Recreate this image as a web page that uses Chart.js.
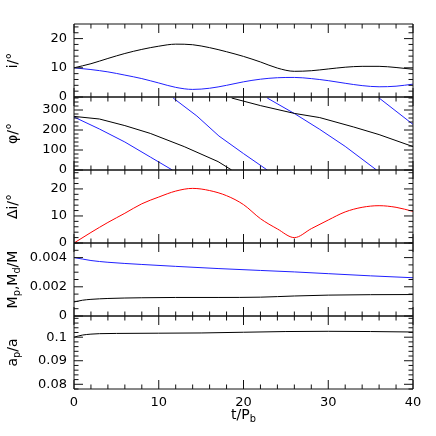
<!DOCTYPE html>
<html>
<head>
<meta charset="utf-8">
<script src="https://cdn.jsdelivr.net/npm/chart.js@4.4.1/dist/chart.umd.min.js"></script>
<style>
  html, body { margin: 0; padding: 0; background: #fff; }
</style>
</head>
<body>
<canvas id="myChart" width="436" height="436"></canvas>
<script>
// time grid (in binary periods) for the smooth series
const tGrid = [0, 2, 4, 6, 8, 10, 12, 14, 16, 18, 20, 22, 24, 26, 28, 30, 32, 34, 36, 38, 40];

// panel 1: inclinations
const incBlack = [10, 11.4, 13.2, 14.9, 16.3, 17.4, 18.1, 17.9, 16.9, 15.5, 13.9, 12.0, 9.9, 8.8, 9.0, 9.6, 10.2, 10.5, 10.5, 10.1, 9.5];
const incBlue = [10, 9.4, 8.6, 7.5, 6.3, 4.8, 3.3, 2.6, 3.0, 4.0, 5.2, 6.1, 6.6, 6.7, 6.3, 5.6, 4.7, 3.9, 3.5, 3.7, 4.4];

// panel 2: node angles, wrapped at 360 (null = break)
const phiBlackT = [0, 3, 6, 9, 13, 17, 18.6, 18.6, 18.6, 22, 26, 29, 33, 36, 40];
const phiBlack = [268, 255, 222, 183, 117, 42, 0, null, 360, 322, 283, 262, 215, 177, 117];
const phiBlueT = [0, 3, 6, 9, 11.6, 11.6, 11.7, 14.5, 17.1, 20, 22.8, 22.8, 22.8, 26.1, 29, 32, 35.7, 35.7, 36, 40];
const phiBlue = [265, 205, 140, 65, 0, null, 360, 270, 170, 82, 0, null, 360, 280, 203, 118, 0, null, 360, 228];

// panel 3: mutual inclination
const dInc = [0, 3.9, 7.6, 11.0, 14.5, 17.0, 19.2, 20.2, 19.4, 17.5, 14.2, 9.0, 5.2, 2.0, 5.3, 8.5, 11.5, 13.2, 13.8, 13.2, 11.7];

// panel 4: masses
const massT = [0, 1, 2, 4, 8, 12, 17, 22, 26, 30, 35, 40];
const massDisc = [0.00400, 0.00390, 0.00380, 0.00368, 0.00353, 0.00340, 0.00325, 0.00312, 0.00302, 0.00290, 0.00275, 0.00262];
const massPlanet = [0.00096, 0.00108, 0.00114, 0.00120, 0.00125, 0.00127, 0.00127, 0.00129, 0.00137, 0.00143, 0.00146, 0.00147];

// panel 5: planet semi-major axis
const apT = [0, 0.5, 1, 2, 3, 5, 10, 15, 20, 25, 30, 35, 40];
const apVal = [0.1000, 0.1005, 0.1009, 0.1013, 0.1015, 0.1016, 0.1017, 0.1018, 0.1021, 0.1024, 0.1025, 0.1024, 0.1022];

// tick labels
const tTicks = [0, 10, 20, 30, 40];
const incTicks = [0, 10, 20];
const phiTicks = [0, 100, 200, 300];
const dIncTicks = [0, 10, 20];
const massTicks = [0, 0.002, 0.004];
const apTicks = [0.08, 0.09, 0.1];

const BLUE = '#2020ff';
const FONT = 'DejaVu Sans';

// top to bottom
const panels = [
    { id: 'y1', min: 0, max: 25, ticks: incTicks, minor: 2, title: [['i/°']] },
    { id: 'y2', min: 0, max: 365, ticks: phiTicks, minor: 20, title: [['φ/°']] },
    { id: 'y3', min: 0, max: 27, ticks: dIncTicks, minor: 2, title: [['Δi/°']] },
    { id: 'y4', min: 0, max: 0.005, ticks: massTicks, minor: 0.0005, title: [['M'], ['p', 1], [',M'], ['d', 1], ['/M']] },
    { id: 'y5', min: 0.078, max: 0.109, ticks: apTicks, minor: 0.002, title: [['a'], ['p', 1], ['/a']] }
];

function pts(ts, vs) {
    return ts.map((t, i) => ({ x: t, y: vs[i] }));
}

function line(data, color, axis, smooth) {
    return {
        data: data,
        yAxisID: axis,
        borderColor: color,
        borderWidth: 1,
        pointRadius: 0,
        fill: false,
        cubicInterpolationMode: smooth ? 'monotone' : 'default',
        tension: 0
    };
}

// text with subscripts; parts = [[text, isSub], ...]
function drawParts(ctx, parts, x, y, size) {
    let w = 0;
    parts.forEach(p => {
        ctx.font = (p[1] ? size * 0.7 : size) + 'px "' + FONT + '"';
        w += ctx.measureText(p[0]).width;
    });
    let cx = x - w / 2;
    parts.forEach(p => {
        ctx.font = (p[1] ? size * 0.7 : size) + 'px "' + FONT + '"';
        ctx.fillText(p[0], cx, p[1] ? y + 4 : y);
        cx += ctx.measureText(p[0]).width;
    });
}

function eachStep(min, max, step, fn) {
    const n0 = Math.ceil(min / step - 1e-6);
    const n1 = Math.floor(max / step + 1e-6);
    for (let n = n0; n <= n1; n++) fn(n * step);
}

const framePlugin = {
    id: 'frames',
    afterDraw(chart) {
        const ctx = chart.ctx;
        const xs = chart.scales.x;
        ctx.save();
        ctx.strokeStyle = '#111';
        ctx.lineWidth = 1;
        panels.forEach(p => {
            const ys = chart.scales[p.id];
            const L = xs.left, R = xs.right, T = ys.top, B = ys.bottom;
            ctx.beginPath();
            ctx.rect(L, T, R - L, B - T);
            // y ticks, both sides, inward
            eachStep(p.min, p.max, p.minor, v => {
                const y = ys.getPixelForValue(v);
                const major = p.ticks.some(t => Math.abs(t - v) < p.minor / 10);
                const len = major ? 9 : 4.5;
                ctx.moveTo(L, y); ctx.lineTo(L + len, y);
                ctx.moveTo(R, y); ctx.lineTo(R - len, y);
            });
            // x ticks, top and bottom of each panel
            eachStep(0, 40, 2, v => {
                const x = xs.getPixelForValue(v);
                const len = Math.round(v) % 10 === 0 ? 9 : 4.5;
                ctx.moveTo(x, B); ctx.lineTo(x, B - len);
                ctx.moveTo(x, T); ctx.lineTo(x, T + len);
            });
            ctx.stroke();
        });

        ctx.fillStyle = '#000';
        ctx.textBaseline = 'middle';
        ctx.textAlign = 'left';
        panels.forEach(p => {
            const ys = chart.scales[p.id];
            ctx.save();
            ctx.translate(13, (ys.top + ys.bottom) / 2);
            ctx.rotate(-Math.PI / 2);
            drawParts(ctx, p.title, 0, 0, 14);
            ctx.restore();
        });
        drawParts(ctx, [['t/P'], ['b', 1]], (xs.left + xs.right) / 2, 415, 14);
        ctx.restore();
    }
};

const scales = {
    x: {
        type: 'linear',
        position: 'bottom',
        min: 0,
        max: 40,
        grid: { display: false, drawTicks: false },
        border: { display: false },
        afterBuildTicks: s => { s.ticks = tTicks.map(v => ({ value: v })); },
        afterFit: s => { s.height = 47; },
        ticks: { autoSkip: false, maxRotation: 0, padding: 6, color: '#000', callback: v => String(v) }
    }
};
// stacked axes are laid out bottom-up, so add them in reverse
panels.slice().reverse().forEach(p => {
    scales[p.id] = {
        type: 'linear',
        position: 'left',
        stack: 'panels',
        stackWeight: 1,
        min: p.min,
        max: p.max,
        grid: { display: false, drawTicks: false },
        border: { display: false },
        afterBuildTicks: s => { s.ticks = p.ticks.map(v => ({ value: v })); },
        afterFit: s => { s.width = 74; },
        ticks: { autoSkip: false, padding: 7, color: '#000', callback: v => String(v) }
    };
});

Chart.defaults.font.family = FONT;
Chart.defaults.font.size = 13;

new Chart(document.getElementById('myChart'), {
    type: 'line',
    data: {
        datasets: [
            line(pts(tGrid, incBlack), '#000', 'y1', true),
            line(pts(tGrid, incBlue), BLUE, 'y1', true),
            line(pts(phiBlackT, phiBlack), '#000', 'y2', false),
            line(pts(phiBlueT, phiBlue), BLUE, 'y2', false),
            line(pts(tGrid, dInc), '#ff0000', 'y3', true),
            line(pts(massT, massDisc), BLUE, 'y4', true),
            line(pts(massT, massPlanet), '#000', 'y4', true),
            line(pts(apT, apVal), '#000', 'y5', true)
        ]
    },
    options: {
        responsive: false,
        animation: false,
        layout: { padding: { top: 24, right: 23, left: 0, bottom: 0 } },
        plugins: { legend: { display: false }, tooltip: { enabled: false } },
        scales: scales
    },
    plugins: [framePlugin]
});
</script>
</body>
</html>
